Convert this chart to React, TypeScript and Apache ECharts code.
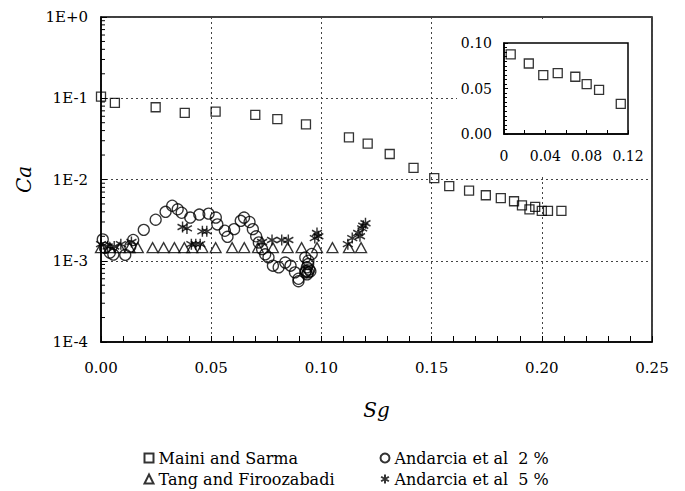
import React, { useEffect, useRef } from "react";
import * as echarts from "echarts";

const FONT = "DejaVu Serif";

// Maini and Sarma
const mainiX = [0.0, 0.0063, 0.0248, 0.038, 0.052, 0.07, 0.08, 0.093, 0.1125, 0.121, 0.131, 0.1418, 0.1512, 0.158, 0.167, 0.1746, 0.1814, 0.1874, 0.191, 0.1944, 0.197, 0.2, 0.2028, 0.2089];
const mainiY = [0.105, 0.0875, 0.0775, 0.066, 0.0686, 0.0624, 0.0552, 0.0478, 0.033, 0.0277, 0.0206, 0.0139, 0.0104, 0.0083, 0.0073, 0.0064, 0.0059, 0.0054, 0.0048, 0.0043, 0.0046, 0.0041, 0.0041, 0.0041];

// Tang and Firoozabadi
const tangX = [0.0, 0.004, 0.0086, 0.013, 0.0167, 0.0234, 0.0284, 0.0333, 0.0378, 0.0414, 0.046, 0.052, 0.0595, 0.065, 0.0712, 0.078, 0.0847, 0.091, 0.098, 0.105, 0.1125, 0.118];
const tangY = [0.00145, 0.00145, 0.00145, 0.00145, 0.00145, 0.00145, 0.00145, 0.00145, 0.00145, 0.00145, 0.00145, 0.00145, 0.00145, 0.00145, 0.00145, 0.00145, 0.00145, 0.00145, 0.00145, 0.00145, 0.00145, 0.00145];

// Andarcia et al 2 %
const and2X = [0.0008, 0.0018, 0.004, 0.0056, 0.011, 0.0133, 0.0146, 0.0194, 0.0248, 0.0293, 0.0323, 0.0348, 0.0366, 0.0405, 0.0446, 0.0488, 0.0521, 0.0528, 0.0562, 0.0574, 0.0604, 0.0634, 0.0649, 0.0674, 0.0689, 0.0704, 0.0716, 0.0731, 0.0745, 0.076, 0.078, 0.0806, 0.0836, 0.086, 0.088, 0.0896, 0.0896, 0.0927, 0.0927, 0.0934, 0.094, 0.0941, 0.0956, 0.093, 0.094, 0.0945, 0.0935, 0.095];
const and2Y = [0.00183, 0.00144, 0.00126, 0.00119, 0.00118, 0.0015, 0.0018, 0.0024, 0.0032, 0.004, 0.00475, 0.0043, 0.0039, 0.0034, 0.0037, 0.0038, 0.0034, 0.0028, 0.00234, 0.00197, 0.00245, 0.0031, 0.0034, 0.003, 0.00245, 0.002, 0.00168, 0.00139, 0.0012, 0.0011, 0.00087, 0.00083, 0.00095, 0.00087, 0.00072, 0.0006, 0.00056, 0.00072, 0.0011, 0.00083, 0.00091, 0.001, 0.00121, 0.00075, 0.00072, 0.00078, 0.00068, 0.00074];

// Andarcia et al 5 %
const and5X = [0.0, 0.003, 0.006, 0.009, 0.0138, 0.037, 0.039, 0.041, 0.043, 0.045, 0.046, 0.048, 0.0731, 0.0776, 0.082, 0.085, 0.097, 0.098, 0.0986, 0.112, 0.114, 0.1167, 0.1175, 0.1185, 0.119, 0.12];
const and5Y = [0.0016, 0.0015, 0.0015, 0.0016, 0.0017, 0.0026, 0.0025, 0.0016, 0.0016, 0.0016, 0.0023, 0.0023, 0.0017, 0.0018, 0.0018, 0.0018, 0.0019, 0.0022, 0.002, 0.0016, 0.0019, 0.0022, 0.002, 0.0025, 0.0027, 0.0029];

// Inset (linear) Maini and Sarma
const insetX = [0.0065, 0.024, 0.038, 0.052, 0.069, 0.08, 0.092, 0.113];
const insetY = [0.0876, 0.0775, 0.0647, 0.0669, 0.0629, 0.0549, 0.0484, 0.0331];

// log minor tick multipliers and decades
const minorMult = [2, 3, 4, 5, 6, 7, 8, 9];
const decades = [1e-4, 1e-3, 1e-2, 1e-1];

const legendLeft = ["Maini and Sarma", "Tang and Firoozabadi"];
const legendRight = ["Andarcia et al  2 %", "Andarcia et al  5 %"];

const STAR = "path://M0,-10L0,10M-8.66,-5L8.66,5M-8.66,5L8.66,-5";

const zip = (xs: number[], ys: number[]) => xs.map((x, i) => [x, ys[i]]);

export default function App() {
  const ref = useRef<HTMLDivElement>(null);
  useEffect(() => {
    document.body.style.margin = "0";
    const chart = echarts.init(ref.current!, undefined, { renderer: "svg" });
    const minorTicks: number[][] = [];
    decades.forEach((d) => minorMult.forEach((m) => minorTicks.push([0, d * m])));

    const hollow = { color: "none", borderColor: "#000", borderWidth: 1.3 };
    const text = { fontFamily: FONT, fontSize: 15, color: "#000" };
    const legendText = { fontFamily: FONT, fontSize: 16, color: "#000" };

    chart.setOption({
      animation: false,
      backgroundColor: "#fff",
      textStyle: { fontFamily: FONT },
      graphic: [
        { type: "rect", z: 1, shape: { x: 457, y: 22, width: 193, height: 153 }, style: { fill: "#fff" } },
      ],
      grid: [
        { left: 101, right: 33, top: 17, bottom: 149, show: true, borderColor: "#000", borderWidth: 1.5, backgroundColor: "transparent" },
        { left: 504, right: 57, top: 43, height: 91, show: true, borderColor: "#000", borderWidth: 1.5, z: 5 },
      ],
      xAxis: [
        {
          type: "value", gridIndex: 0, min: 0, max: 0.25, interval: 0.05,
          name: "Sg", nameLocation: "middle", nameGap: 58,
          nameTextStyle: { fontFamily: FONT, fontSize: 20, fontStyle: "italic", color: "#000" },
          axisLine: { lineStyle: { color: "#000", width: 1.5 } },
          axisTick: { inside: true, length: 6, lineStyle: { color: "#000" } },
          minorTick: { show: true, splitNumber: 5, length: 6, lineStyle: { color: "#000" } },
          axisLabel: { ...text, margin: 18, formatter: (v: number) => v.toFixed(2) },
          splitLine: { show: true, lineStyle: { color: "#444", type: [2, 3], width: 1 } },
        },
        {
          type: "value", gridIndex: 1, min: 0, max: 0.12, interval: 0.04, z: 5,
          axisLine: { lineStyle: { color: "#000", width: 1.5 } },
          axisTick: { inside: true, length: 4, lineStyle: { color: "#000" } },
          minorTick: { show: true, splitNumber: 2, length: 4, lineStyle: { color: "#000" } },
          axisLabel: { ...text, fontSize: 14, margin: 15, formatter: (v: number) => (v === 0 ? "0" : v.toFixed(2)) },
          splitLine: { show: false },
        },
      ],
      yAxis: [
        {
          type: "log", gridIndex: 0, min: 1e-4, max: 1, logBase: 10,
          name: "Ca", nameLocation: "middle", nameGap: 66, nameRotate: 90,
          nameTextStyle: { fontFamily: FONT, fontSize: 20, fontStyle: "italic", color: "#000" },
          axisLine: { lineStyle: { color: "#000", width: 1.5 } },
          axisTick: { inside: true, length: 6, lineStyle: { color: "#000" } },
          axisLabel: {
            ...text, margin: 13,
            formatter: (v: number) => {
              const e = Math.round(Math.log10(v));
              return "1E" + (e >= 0 ? "+" : "") + e;
            },
          },
          splitLine: { show: true, lineStyle: { color: "#444", type: [2, 3], width: 1 } },
        },
        {
          type: "value", gridIndex: 1, min: 0, max: 0.1, interval: 0.05, z: 5,
          axisLine: { lineStyle: { color: "#000", width: 1.5 } },
          axisTick: { inside: true, length: 4, lineStyle: { color: "#000" } },
          minorTick: { show: true, splitNumber: 10, length: 3, lineStyle: { color: "#000" } },
          axisLabel: { ...text, fontSize: 14, margin: 12, formatter: (v: number) => v.toFixed(2) },
          splitLine: { show: false },
        },
      ],
      legend: [
        {
          orient: "vertical", left: 142, top: 450, width: 230, height: 80, padding: 0,
          itemWidth: 9, itemHeight: 9, itemGap: 5,
          data: legendLeft, textStyle: legendText,
        },
        {
          orient: "vertical", left: 378, top: 450, width: 300, height: 80, padding: 0,
          itemWidth: 9, itemHeight: 9, itemGap: 5,
          data: legendRight, textStyle: legendText,
        },
      ],
      series: [
        {
          type: "custom", xAxisIndex: 0, yAxisIndex: 0, silent: true, z: 3,
          data: minorTicks,
          renderItem: (params: any, api: any) => {
            const p = api.coord([0, api.value(1)]);
            return { type: "line", shape: { x1: p[0], y1: p[1], x2: p[0] + 4, y2: p[1] }, style: { stroke: "#000", lineWidth: 1 } };
          },
        },
        {
          name: legendLeft[0], type: "scatter", xAxisIndex: 0, yAxisIndex: 0,
          symbol: "rect", symbolSize: 9, itemStyle: hollow, data: zip(mainiX, mainiY),
        },
        {
          name: legendLeft[1], type: "scatter", xAxisIndex: 0, yAxisIndex: 0,
          symbol: "triangle", symbolSize: [11, 10], itemStyle: hollow, data: zip(tangX, tangY),
        },
        {
          name: legendRight[0], type: "scatter", xAxisIndex: 0, yAxisIndex: 0,
          symbol: "circle", symbolSize: 11, itemStyle: hollow, data: zip(and2X, and2Y),
        },
        {
          name: legendRight[1], type: "scatter", xAxisIndex: 0, yAxisIndex: 0,
          symbol: STAR, symbolSize: [10, 11], itemStyle: { color: "none", borderColor: "#000", borderWidth: 1.5 },
          data: zip(and5X, and5Y),
        },
        {
          name: "inset", type: "scatter", xAxisIndex: 1, yAxisIndex: 1, z: 6,
          symbol: "rect", symbolSize: 9, itemStyle: hollow, data: zip(insetX, insetY),
        },
      ],
    });
    return () => chart.dispose();
  }, []);
  return <div ref={ref} style={{ width: 685, height: 491 }} />;
}
